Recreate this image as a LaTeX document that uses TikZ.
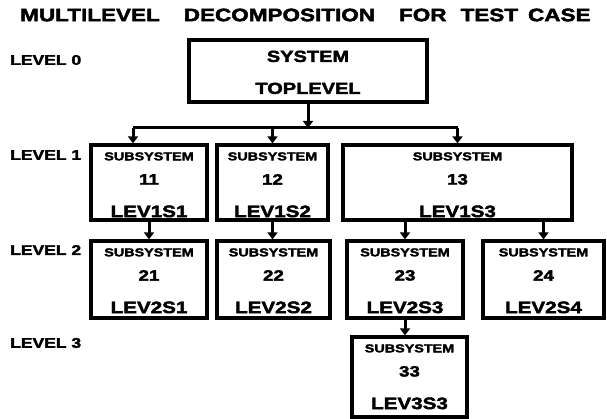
\documentclass[tikz,border=0pt]{standalone}
\usepackage{fontspec}
\usepackage{tikz}
\usetikzlibrary{arrows.meta}
\newfontfamily\heavy[FakeStretch=1.25,FakeBold=2.5]{Liberation Sans Bold}

\begin{document}
\begin{tikzpicture}[x=1pt,y=-1pt,
  frame/.style={draw,line width=3.2pt,inner sep=0pt},
  conn/.style={line width=3pt,-{Triangle[width=10pt,length=7pt]}},
  bus/.style={line width=3pt},
  ttl/.style={anchor=west,inner sep=0pt,font=\heavy\fontsize{18}{18}\selectfont},
  lvl/.style={anchor=west,inner sep=0pt,font=\heavy\fontsize{14}{14}\selectfont},
  toptxt/.style={inner sep=0pt,font=\heavy\fontsize{16}{16}\selectfont},
  subtxt/.style={inner sep=0pt,font=\heavy\fontsize{11.5}{12}\selectfont},
  numtxt/.style={inner sep=0pt,font=\heavy\fontsize{15}{15}\selectfont},
  levtxt/.style={inner sep=0pt,font=\heavy\fontsize{16.5}{17}\selectfont}]
  \useasboundingbox[fill=white] (0,0) rectangle (607,419);
  \node[ttl] (title) at (20,15) {MULTILEVEL\hspace{24pt}DECOMPOSITION\hspace{24pt}FOR\hspace{14pt}TEST\hspace{10pt}CASE};
  % level names down the left side
  \foreach \i/\yy in {0/60,1/155,2/250,3/343} \node[lvl] (lv\i) at (10,\yy) {LEVEL \i};
  % level 0
  \node[frame,minimum width=238pt,minimum height=62pt] (top) at (308,71) {};
  \node[toptxt] (sys) at ([yshift=-18pt]top.north) {SYSTEM};
  \node[toptxt] (tpl) at ([yshift=-50pt]top.north) {TOPLEVEL};
  % subsystems: name/x/y/width/height/label
  \foreach \n/\cx/\cy/\w/\h/\lev in {11/149/182.5/116/75/LEV1S1,12/272.5/182.5/111/75/LEV1S2,
      13/457.5/182.5/229/75/LEV1S3,21/149/279.5/116/77/LEV2S1,22/273.5/279.5/113/77/LEV2S2,
      23/405/279.5/116/77/LEV2S3,24/543.5/279.5/121/77/LEV2S4,33/409.5/377/115/80/LEV3S3} {
    \node[frame,minimum width=\w pt,minimum height=\h pt] (b\n) at (\cx,\cy) {};
    \node[subtxt] (s\n) at ([yshift=-13pt]b\n.north) {SUBSYSTEM};
    \node[numtxt] (n\n) at ([yshift=-36pt]b\n.north) {\n};
    \node[levtxt] (l\n) at ([yshift=-68pt]b\n.north) {\lev};
  }
  % distribution bar below the top box
  \coordinate (busL) at (133,128);
  \coordinate (busR) at (b13.north |- busL);
  \draw[bus] (busL) -- (busR);
  \draw[conn] (top.south) -- (top.south |- busL);
  \draw[conn] (busL) -- (busL |- b11.north);
  \draw[conn] (b12.north |- busL) -- (b12.north);
  \draw[conn] (busR) -- (b13.north);
  % level 1 -> level 2 -> level 3
  \draw[conn] (b11.south) -- (b21.north);
  \draw[conn] (b12.south) -- (b12.south |- b22.north);
  \draw[conn] (b23.north |- b13.south) -- (b23.north);
  \draw[conn] (b24.north |- b13.south) -- (b24.north);
  \draw[conn] (b23.south) -- (b23.south |- b33.north);
\end{tikzpicture}
\end{document}
